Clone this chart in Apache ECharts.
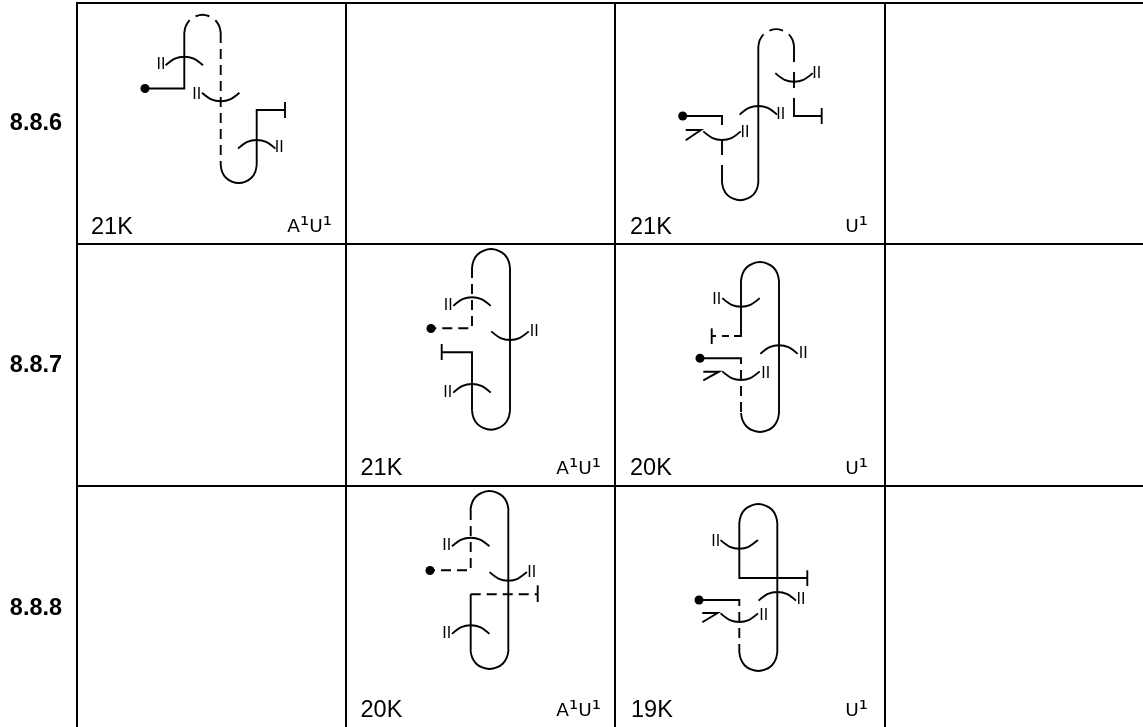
<!DOCTYPE html>
<html>
<head>
<meta charset="utf-8">
<title>8.8.x</title>
<script src="https://cdn.jsdelivr.net/npm/echarts@6/dist/echarts.min.js"></script>
<style>
  html, body { margin: 0; padding: 0; background: #fff; }
  #main { width: 1143px; height: 727px; }
</style>
</head>
<body>
<div id="main"></div>
<script>
// everything is in picture units: x 0-1143, y 0-727 going down
const rowLabels = [['8.8.6', 36, 124], ['8.8.7', 36, 366], ['8.8.8', 36, 608.5]];
const sizeLabels = [
  ['21K', 91, 227.5], ['21K', 630, 227.5],
  ['21K', 360.5, 469], ['20K', 630, 469],
  ['20K', 360.5, 711], ['19K', 631, 711]
];
const classLabels = [
  ['{a|A}{s|¹}{a|U}{s|¹}', 332, 227], ['{a|U}{s|¹}', 868, 227],
  ['{a|A}{s|¹}{a|U}{s|¹}', 601, 469], ['{a|U}{s|¹}', 868, 469],
  ['{a|A}{s|¹}{a|U}{s|¹}', 601, 711], ['{a|U}{s|¹}', 868, 711]
];

const tableLines = [
  [[76, 3], [1143, 3]], [[76, 244], [1143, 244]], [[76, 486], [1143, 486]],
  [[77, 2], [77, 727]], [[346, 2], [346, 727]], [[615, 2], [615, 727]], [[885, 2], [885, 727]]
];

const solidPaths = [
  // 8.8.6, first hairpin
  [[145, 88.5], [184.3, 88.5], [184.3, 33]],
  [[256.7, 165], [256.7, 110], [285, 110]], [[285, 102], [285, 118]],
  // 8.8.6, second hairpin
  [[682.7, 116], [722, 116], [722, 125]], [[722, 139], [722, 155]], [[722, 165], [722, 182]],
  [[758.3, 182], [758.3, 47]],
  [[794, 47], [794, 62]], [[794, 72], [794, 88]], [[794, 98], [794, 116], [821.7, 116]], [[821.7, 108], [821.7, 124]],
  // 8.8.7, left
  [[510, 268], [510, 410.7]],
  [[472, 410.7], [472, 352.3], [441.7, 352.3]], [[441.7, 344], [441.7, 360]],
  // 8.8.7, right
  [[779, 281], [779, 413]],
  [[741, 281], [741, 336], [734, 336]], [[711.7, 328.3], [711.7, 344]],
  [[729, 336], [722, 336]], [[716, 336], [711.7, 336]],
  [[700, 358.3], [741, 358.3], [741, 364]],
  // 8.8.8, left
  [[508.3, 510], [508.3, 650]],
  [[470.7, 650], [470.7, 594.3]], [[537.7, 585.3], [537.7, 602]],
  // 8.8.8, right
  [[777.3, 523], [777.3, 652]],
  [[739.3, 523], [739.3, 578], [807.3, 578]], [[807.3, 570.3], [807.3, 586]],
  [[699, 600], [739.3, 600], [739.3, 606]]
];

const dashedPaths = [
  [[220.7, 33], [220.7, 165]],
  [[472, 268], [472, 328.3], [431, 328.3]],
  [[741, 370], [741, 413]],
  [[470.7, 510], [470.7, 570.3], [430, 570.3]],
  [[470.7, 594.3], [537.7, 594.3]],
  [[739.3, 612], [739.3, 652]]
];

// hairpin ends: centre x, y of the straight part, radius
const topCaps = [[491, 268, 19], [760, 281, 19], [489.5, 510, 19], [758.3, 523, 19]];
const bottomCaps = [
  [238.7, 165, 18], [740.2, 182, 18.2], [491, 410.7, 19],
  [760, 413, 19], [489.5, 650, 19], [758.3, 652, 19]
];
const brokenTopCaps = [[202.5, 33, 18.2], [776.2, 47, 17.9]];

// short crossing arcs: crossing point
const arcsUp = [
  [184.3, 56.7], [256.7, 140], [758.3, 106],
  [472, 297.3], [472, 384], [779, 345.3],
  [470.7, 537.7], [470.7, 625.3], [777.3, 592]
];
const arcsDown = [
  [220.7, 101.3], [794, 81.7], [722, 140],
  [510, 340], [741, 306.7], [741, 380],
  [508.3, 580.7], [739.3, 548.7], [739.3, 622]
];
const pairMarks = [
  [161, 65], [196.7, 95], [279.3, 147.7], [816.7, 74], [780.7, 114.3], [745, 132.3],
  [448.3, 306], [534.3, 331.7], [447.7, 392.3], [716.7, 300], [803.3, 353.3], [765.7, 373.3],
  [446.7, 545.3], [531.7, 572.7], [446.7, 633.3], [715.7, 541.3], [801, 599.3], [763.7, 615.3]
];
const chevrons = [
  [[685.7, 130], [701, 130], [685.7, 140.3]],
  [[703.3, 371.7], [719, 371.7], [703.3, 380.3]],
  [[702.3, 613], [717.7, 613], [702.3, 622.3]]
];
const dots = [[145, 88.5], [682.7, 116], [431, 328.5], [700, 358.3], [430, 570.5], [699, 600]];

// outline of a cap and of a crossing arc, relative to their anchor
const capShape = [[-1, 1], [-0.92, 0.62], [-0.71, 0.29], [-0.38, 0.08], [0, 0], [0.38, 0.08], [0.71, 0.29], [0.92, 0.62], [1, 1]];
const arcShape = [[-18.7, 8.6], [-9.4, 1.9], [0, 0], [9.4, 1.9], [18.7, 8.6]];

const strokeWidth = 1.9;

function capPath(c, pts, flip) {
  return pts.map(p => [c[0] + p[0] * c[2], flip ? c[1] + (1 - p[1]) * c[2] : c[1] - c[2] + p[1] * c[2]]);
}
function arcPath(a, flip) {
  return arcShape.map(p => [a[0] + p[0], flip ? a[1] - p[1] : a[1] + p[1]]);
}

function lineSeries(data, width, type, smooth) {
  return {
    type: 'line',
    data: data,
    symbol: 'none',
    smooth: smooth ? 0.35 : false,
    silent: true,
    clip: false,
    lineStyle: { color: '#000', width: width, type: type, cap: 'butt', join: 'miter' }
  };
}

function textSeries(list, font, size, weight, align, rich) {
  return {
    type: 'scatter',
    symbolSize: 0,
    silent: true,
    itemStyle: { opacity: 1 },
    data: list.map(t => ({
      value: [t[1], t[2]],
      label: {
        show: true,
        formatter: t[0],
        position: 'inside',
        fontFamily: font,
        fontSize: size,
        fontWeight: weight,
        align: align,
        verticalAlign: 'middle',
        color: '#000',
        rich: rich
      }
    }))
  };
}

const classRich = {
  a: { fontFamily: 'DejaVu Sans', fontSize: 18.5, color: '#000' },
  s: { fontFamily: 'DejaVu Sans', fontSize: 23, color: '#000' }
};

const series = [];
tableLines.forEach(p => series.push(lineSeries(p, 2, 'solid')));
solidPaths.forEach(p => series.push(lineSeries(p, strokeWidth, 'solid')));
chevrons.forEach(p => series.push(lineSeries(p, strokeWidth, 'solid')));
dashedPaths.forEach(p => series.push(lineSeries(p, strokeWidth, [10, 6])));
topCaps.forEach(c => series.push(lineSeries(capPath(c, capShape), strokeWidth, 'solid', true)));
bottomCaps.forEach(c => series.push(lineSeries(capPath(c, capShape, true), strokeWidth, 'solid', true)));
brokenTopCaps.forEach(c => {
  series.push(lineSeries(capPath(c, capShape.slice(0, 3)), strokeWidth, 'solid', true));
  series.push(lineSeries(capPath(c, capShape.slice(3, 6)), strokeWidth, 'solid', true));
  series.push(lineSeries(capPath(c, capShape.slice(6)), strokeWidth, 'solid', true));
});
arcsUp.forEach(a => series.push(lineSeries(arcPath(a), strokeWidth, 'solid', true)));
arcsDown.forEach(a => series.push(lineSeries(arcPath(a, true), strokeWidth, 'solid', true)));
series.push({ type: 'scatter', data: dots, symbol: 'circle', symbolSize: 9, silent: true, itemStyle: { color: '#000', opacity: 1 } });
series.push(textSeries(rowLabels, 'Liberation Sans', 23.5, 'bold', 'center'));
series.push(textSeries(sizeLabels, 'Liberation Sans', 23.5, 'normal', 'left'));
series.push(textSeries(classLabels, 'DejaVu Sans', 18.5, 'normal', 'right', classRich));
series.push(textSeries(pairMarks.map(p => ['II', p[0], p[1]]), 'Liberation Sans', 16, 'normal', 'center'));

const chart = echarts.init(document.getElementById('main'));
chart.setOption({
  animation: false,
  backgroundColor: '#fff',
  grid: { left: 0, right: 0, top: 0, bottom: 0 },
  xAxis: { type: 'value', min: 0, max: 1143, show: false },
  yAxis: { type: 'value', min: 0, max: 727, inverse: true, show: false },
  series: series
});
</script>
</body>
</html>
